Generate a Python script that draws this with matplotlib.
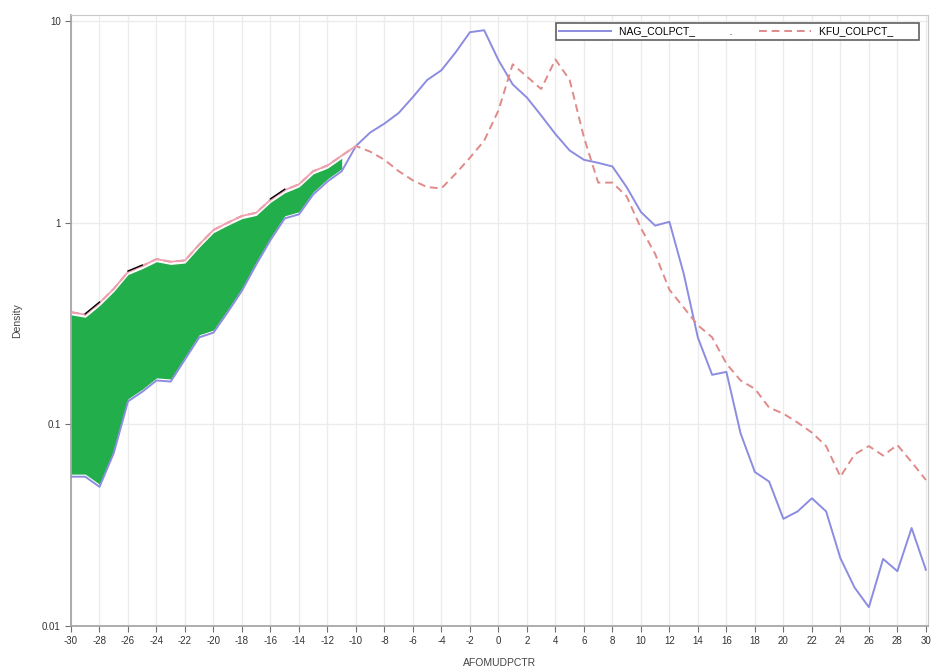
import numpy as np
import matplotlib
matplotlib.use('Agg')
import matplotlib.pyplot as plt
from matplotlib.ticker import FixedLocator, FixedFormatter

plt.rcParams['font.family'] = ['Liberation Sans Narrow', 'Liberation Sans', 'DejaVu Sans']
plt.rcParams['axes.unicode_minus'] = False

# AFOMUDPCTR values (one point per unit)
x_vals = np.arange(-30, 31)

# NAG_COLPCT_ density (solid blue)
nag = [0.055, 0.055, 0.049, 0.072, 0.13, 0.145, 0.165, 0.163, 0.21, 0.27,
       0.285, 0.36, 0.46, 0.62, 0.82, 1.05, 1.10, 1.38, 1.6, 1.8,
       2.4, 2.8, 3.1, 3.5, 4.2, 5.1, 5.7, 7.0, 8.8, 9.0,
       6.4, 4.85, 4.17, 3.4, 2.75, 2.28, 2.05, 1.98, 1.90, 1.5,
       1.13, 0.967, 1.01, 0.56, 0.269, 0.176, 0.182, 0.09, 0.058, 0.052,
       0.034, 0.037, 0.043, 0.037, 0.0217, 0.0155, 0.0124, 0.0215, 0.0187, 0.0306,
       0.019]

# KFU_COLPCT_ density (dashed red)
kfu = [0.36, 0.35, 0.40, 0.47, 0.57, 0.61, 0.66, 0.64, 0.65, 0.78,
       0.92, 1.0, 1.08, 1.12, 1.3, 1.45, 1.55, 1.8, 1.92, 2.15,
       2.4, 2.25, 2.05, 1.8, 1.62, 1.5, 1.48, 1.75, 2.1, 2.55,
       3.6, 6.1, 5.3, 4.6, 6.45, 5.1, 2.65, 1.58, 1.58, 1.35,
       0.94, 0.70, 0.465, 0.38, 0.31, 0.27, 0.20, 0.165, 0.15, 0.121,
       0.113, 0.102, 0.091, 0.078, 0.055, 0.071, 0.078, 0.070, 0.079, 0.065,
       0.053]

# green band covers the left part, up to x = -11
band_end = 20

xticks = list(range(-30, 31, 2))
yticks = [0.01, 0.1, 1, 10]
ytick_labels = ['0.01', '0.1', '1', '10']

c_blue = '#8c8ce0'
c_red = '#e08a8a'
c_green = '#22ae4b'
c_grid = '#ececec'
c_spine = '#a0a0a0'

fig = plt.figure(figsize=(9.33, 6.70), dpi=100, facecolor='white')
ax = fig.add_axes([71/933, 1 - 626/670, (928 - 71)/933, (626 - 15)/670])

ax.set_yscale('log')
ax.set_xlim(-30, 30.15)
ax.set_ylim(0.01, 10.71)

nag = np.array(nag)
kfu = np.array(kfu)

# grid
ax.xaxis.set_major_locator(FixedLocator(xticks))
ax.yaxis.set_major_locator(FixedLocator(yticks))
ax.yaxis.set_major_formatter(FixedFormatter(ytick_labels))
ax.yaxis.set_minor_locator(FixedLocator([]))
ax.grid(True, which='major', color=c_grid, linewidth=1.0, zorder=0)
ax.set_axisbelow(True)

# green band
ax.fill_between(x_vals[:band_end], nag[:band_end] * 1.03, kfu[:band_end] * 0.97,
                color=c_green, linewidth=0, zorder=2)

l1, = ax.plot(x_vals, nag, color=c_blue, linewidth=1.4, zorder=3,
              label='NAG_COLPCT_' + ' ' * 12 + '.')
l2, = ax.plot(x_vals, kfu, color=c_red, linewidth=1.4, linestyle=(0, (4, 2.5)),
              zorder=3, label='KFU_COLPCT_' + ' ' * 8)
# the pink upper edge of the band
ax.plot(x_vals[:band_end + 1], kfu[:band_end + 1], color='#f0a0b0',
        linewidth=1.3, zorder=3)

# small black jagged bits along the upper edge
for i0, i1 in [(1, 3), (4, 6), (8, 9), (11, 12), (14, 16)]:
    ax.plot(x_vals[i0:i1], kfu[i0:i1] * 1.01, color='black', linewidth=1.0,
            zorder=4)

for side in ['top', 'right']:
    ax.spines[side].set_color('#c8c8c8')
for side in ['left', 'bottom']:
    ax.spines[side].set_color(c_spine)
    ax.spines[side].set_linewidth(1.2)

ax.tick_params(axis='both', which='major', labelsize=7, length=4, width=0.8,
               color='#707070', labelcolor='#333333', direction='out')
ax.tick_params(axis='both', which='minor', length=0)

ax.set_xlabel('AFOMUDPCTR', fontsize=7.5, color='#444444', labelpad=8)
ax.set_ylabel('Density', fontsize=7.5, color='#444444', labelpad=14)

leg = ax.legend(handles=[l1, l2], loc='upper right', ncol=2, fontsize=7.5,
                frameon=True, fancybox=False, edgecolor='#606060',
                framealpha=1, handlelength=5, columnspacing=2.5,
                borderpad=0.3, bbox_to_anchor=(0.996, 0.995))
leg.get_frame().set_linewidth(1.2)

fig.savefig('out.png', dpi=100)
